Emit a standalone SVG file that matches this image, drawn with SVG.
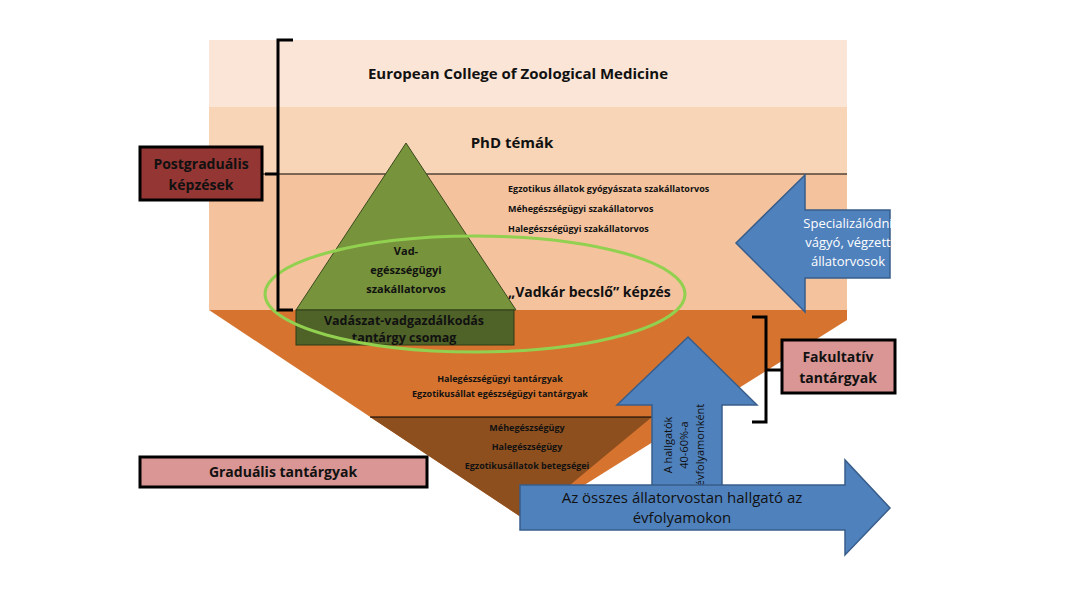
<svg xmlns="http://www.w3.org/2000/svg" width="1080" height="608" viewBox="0 0 1080 608">
<style>
text{font-family:"Open Sans","Liberation Sans",sans-serif;fill:#111;text-anchor:middle}
.b{font-weight:bold}
.s{font-size:9px;font-weight:bold}
.m{font-size:11px;font-weight:bold}
.blue{fill:#4f81bd;stroke:#385d8a;stroke-width:1.5}
.lab{stroke:#000;stroke-width:3}
.br{fill:none;stroke:#000;stroke-width:3}
</style>
<rect width="1080" height="608" fill="#fff"/>
<g id="bands">
<rect x="209" y="40" width="638" height="67" fill="#fbe5d6"/>
<rect x="209" y="107" width="638" height="67" fill="#f7d5b6"/>
<rect x="209" y="174" width="638" height="136" fill="#f4c39e"/>
<line x1="209" y1="174" x2="847" y2="174" stroke="#000" stroke-width="1.2"/>
<polygon points="209,310 847,310 847,320 527,521" fill="#d6742f"/>
<polygon points="370,417 652,417 600,460 527,521" fill="#8e4f1f"/>
<line x1="370" y1="417" x2="652" y2="417" stroke="#000" stroke-width="1.2"/>
<text x="518" y="79" class="b" font-size="15">European College of Zoological Medicine</text>
<text x="512" y="148" class="b" font-size="15">PhD témák</text>
<text x="508" y="192" class="s" text-anchor="start" style="text-anchor:start">Egzotikus állatok gyógyászata szakállatorvos</text>
<text x="508" y="212" class="s" style="text-anchor:start">Méhegészségügyi szakállatorvos</text>
<text x="508" y="232" class="s" style="text-anchor:start">Halegészségügyi szakállatorvos</text>
<text x="508" y="297" class="b" font-size="14" style="text-anchor:start">„Vadkár becslő” képzés</text>
<text x="500" y="382" class="s">Halegészségügyi tantárgyak</text>
<text x="500" y="397" class="s">Egzotikusállat egészségügyi tantárgyak</text>
<text x="527" y="431" class="s">Méhegészségügy</text>
<text x="527" y="450" class="s">Halegészségügy</text>
<text x="527" y="469" class="s">Egzotikusállatok betegségei</text>
</g>
<g id="pyramid">
<polygon points="406,143 296,310 516,310" fill="#77933c" stroke="#3b4a1e" stroke-width="1"/>
<text x="406" y="255" class="m">Vad-</text>
<text x="406" y="274" class="m">egészségügyi</text>
<text x="406" y="293" class="m">szakállatorvos</text>
<rect x="296" y="310" width="218" height="35" fill="#4f6228" stroke="#2d3a17"/>
<text x="404" y="325" class="b" font-size="12.5">Vadászat-vadgazdálkodás</text>
<text x="404" y="342" class="b" font-size="12.5">tantárgy csomag</text>
</g>
<g id="ellipse"><ellipse cx="475" cy="294" rx="210" ry="58" fill="none" stroke="#92d050" stroke-width="3"/></g>
<g id="connectors">
<path class="br" d="M293,40 H278 V310 H293 M278,174 H265"/>
<path class="br" d="M752,317 H766 V422 H752 M766,370 H782"/>
</g>
<g id="postgrad">
<rect x="140" y="147" width="122" height="53" fill="#943634" class="lab"/>
<text x="201" y="169" class="b" font-size="14">Postgraduális</text>
<text x="201" y="190" class="b" font-size="14">képzések</text>
</g>
<g id="fakultativ">
<rect x="782" y="340" width="113" height="53" fill="#d99694" class="lab"/>
<text x="838" y="362" class="b" font-size="14">Fakultatív</text>
<text x="838" y="383" class="b" font-size="14">tantárgyak</text>
</g>
<g id="gradualis">
<rect x="140" y="457" width="287" height="30" fill="#d99694" class="lab"/>
<text x="283" y="477" class="b" font-size="14">Graduális tantárgyak</text>
</g>
<g id="arrow-left">
<polygon class="blue" points="736,243 805,175 805,210 890,210 890,278 805,278 805,312"/>
<text x="848" y="228" font-size="13" style="fill:#fff">Specializálódni</text>
<text x="848" y="247" font-size="13" style="fill:#fff">vágyó, végzett</text>
<text x="848" y="266" font-size="13" style="fill:#fff">állatorvosok</text>
</g>
<g id="arrow-up">
<polygon class="blue" points="688,337 757,405 722,405 722,487 652,487 652,405 617,405"/>
<text transform="translate(672,445) rotate(-90)" font-size="11" style="fill:#111">A hallgatók</text>
<text transform="translate(688,445) rotate(-90)" font-size="11" style="fill:#111">40-60%-a</text>
<text transform="translate(704,445) rotate(-90)" font-size="11" style="fill:#111">évfolyamonként</text>
</g>
<g id="arrow-right">
<polygon class="blue" points="520,485 845,485 845,460 890,508 845,555 845,530 520,530"/>
<text x="682" y="503" font-size="15">Az összes állatorvostan hallgató az</text>
<text x="682" y="523" font-size="15">évfolyamokon</text>
</g>
</svg>
